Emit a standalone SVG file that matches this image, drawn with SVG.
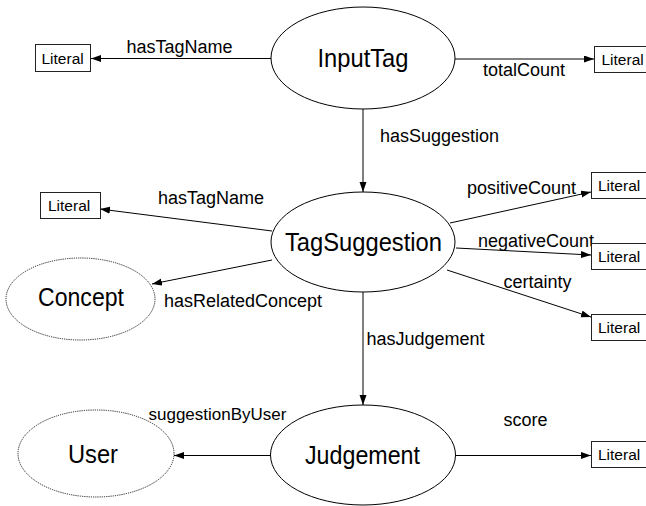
<svg xmlns="http://www.w3.org/2000/svg" width="646" height="506" viewBox="0 0 646 506">
<style>
.node{fill:#fff;stroke:#000;stroke-width:1}
.ext{fill:#fff;stroke:#222;stroke-width:1;stroke-dasharray:1.2,1}
.lit{fill:#fff;stroke:#222;stroke-width:1}
.edge{fill:none;stroke:#000;stroke-width:1;marker-end:url(#arr)}
.nt{font-family:"Liberation Sans",Arial,sans-serif;font-size:25.5px;fill:#000;text-anchor:middle}
.lt{font-family:"Liberation Sans",Arial,sans-serif;font-size:15.5px;fill:#000}
.el{font-family:"Liberation Sans",Arial,sans-serif;font-size:18px;fill:#000}
</style>
<defs>
<marker id="arr" markerUnits="userSpaceOnUse" markerWidth="11" markerHeight="8" refX="10" refY="3.5" orient="auto">
<path d="M0,0 L10,3.5 L0,7 z" fill="#000"/>
</marker>
</defs>
<rect width="646" height="506" fill="#fff"/>
<g id="connectors">
<line class="edge" x1="271" y1="58.5" x2="91" y2="58.5"/>
<line class="edge" x1="455" y1="59" x2="594" y2="59"/>
<line class="edge" x1="363" y1="109" x2="363" y2="192"/>
<line class="edge" x1="272" y1="231" x2="100" y2="209"/>
<line class="edge" x1="272" y1="260" x2="152" y2="284"/>
<line class="edge" x1="450" y1="223" x2="591" y2="192"/>
<line class="edge" x1="456" y1="248" x2="591" y2="255"/>
<line class="edge" x1="447" y1="270" x2="591" y2="317"/>
<line class="edge" x1="363" y1="292" x2="363" y2="405"/>
<line class="edge" x1="271" y1="455.5" x2="174" y2="455.5"/>
<line class="edge" x1="456" y1="455.5" x2="591" y2="455.5"/>
<text class="el" x="126.5" y="53">hasTagName</text>
<text class="el" x="483" y="76">totalCount</text>
<text class="el" x="380" y="142">hasSuggestion</text>
<text class="el" x="158" y="204">hasTagName</text>
<text class="el" x="467" y="194">positiveCount</text>
<text class="el" x="478" y="247">negativeCount</text>
<text class="el" x="503.5" y="288">certainty</text>
<text class="el" x="164" y="307">hasRelatedConcept</text>
<text class="el" x="366.5" y="345">hasJudgement</text>
<text class="el" x="148.5" y="420" style="font-size:17px">suggestionByUser</text>
<text class="el" x="503.5" y="426">score</text>
</g>
<g id="InputTag">
<ellipse class="node" cx="363" cy="58" rx="92" ry="51"/>
<text class="nt" x="363" y="67" textLength="91" lengthAdjust="spacingAndGlyphs">InputTag</text>
</g>
<g id="TagSuggestion">
<ellipse class="node" cx="363" cy="242" rx="92" ry="50"/>
<text class="nt" x="363.5" y="251" textLength="157" lengthAdjust="spacingAndGlyphs">TagSuggestion</text>
</g>
<g id="Judgement">
<ellipse class="node" cx="363" cy="455" rx="92.5" ry="50"/>
<text class="nt" x="362.5" y="464" textLength="115" lengthAdjust="spacingAndGlyphs">Judgement</text>
</g>
<g id="Concept">
<ellipse class="ext" cx="80.5" cy="299" rx="74.5" ry="41"/>
<text class="nt" x="81" y="306" textLength="86" lengthAdjust="spacingAndGlyphs">Concept</text>
</g>
<g id="User">
<ellipse class="ext" cx="96" cy="453.5" rx="78" ry="43.5"/>
<text class="nt" x="93" y="462.5" textLength="50" lengthAdjust="spacingAndGlyphs">User</text>
</g>
<g id="Literal1">
<rect class="lit" x="35.5" y="44.5" width="55" height="27"/>
<text class="lt" x="41.5" y="63.5">Literal</text>
</g>
<g id="Literal2">
<rect class="lit" x="594.5" y="46.5" width="56" height="26"/>
<text class="lt" x="601.5" y="64.5">Literal</text>
</g>
<g id="Literal3">
<rect class="lit" x="40.5" y="192.5" width="60" height="26"/>
<text class="lt" x="48" y="210.5">Literal</text>
</g>
<g id="Literal4">
<rect class="lit" x="591.5" y="172.5" width="56" height="26"/>
<text class="lt" x="598" y="190.5">Literal</text>
</g>
<g id="Literal5">
<rect class="lit" x="591.5" y="243.5" width="56" height="26"/>
<text class="lt" x="598" y="261.5">Literal</text>
</g>
<g id="Literal6">
<rect class="lit" x="591.5" y="314.5" width="56" height="26"/>
<text class="lt" x="598" y="332.5">Literal</text>
</g>
<g id="Literal7">
<rect class="lit" x="591.5" y="441.5" width="56" height="26"/>
<text class="lt" x="598" y="459.5">Literal</text>
</g>
</svg>
